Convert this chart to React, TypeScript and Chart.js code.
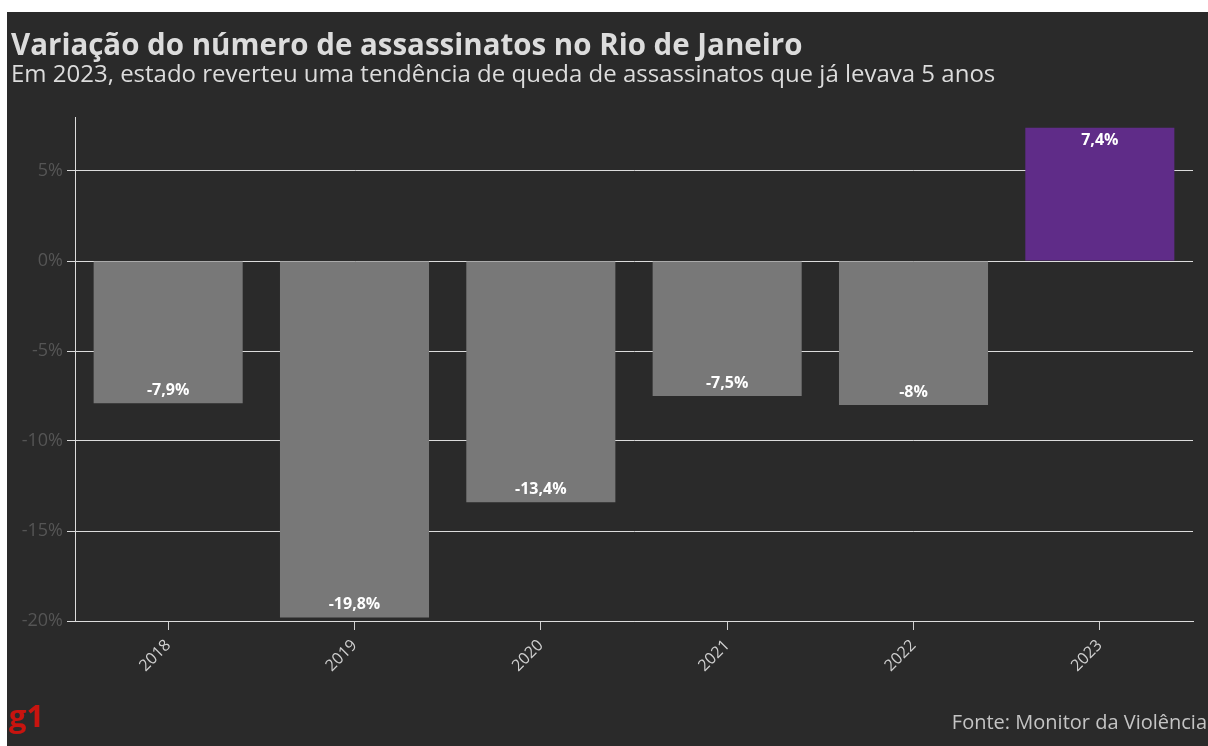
import { useEffect, useRef } from "react";
import { Chart, registerables } from "chart.js";

Chart.register(...registerables);

const years = ["2018", "2019", "2020", "2021", "2022", "2023"];
const variation = [-7.9, -19.8, -13.4, -7.5, -8, 7.4];
const valueLabels = ["-7,9%", "-19,8%", "-13,4%", "-7,5%", "-8%", "7,4%"];
const yTicks = [-20, -15, -10, -5, 0, 5];
const barColors = ["#787878", "#787878", "#787878", "#787878", "#787878", "#5f2c88"];

const TITLE = "Variação do número de assassinatos no Rio de Janeiro";
const SUBTITLE = "Em 2023, estado reverteu uma tendência de queda de assassinatos que já levava 5 anos";
const SOURCE = "Fonte: Monitor da Violência";
const FONT = "'Open Sans', 'Noto Sans', sans-serif";

export default function App() {
  const ref = useRef<HTMLCanvasElement | null>(null);

  useEffect(() => {
    if (!ref.current) return;
    const decor = {
      id: "decor",
      beforeDraw(chart: any) {
        const c = chart.ctx;
        c.save();
        c.fillStyle = "#2a2a2a";
        c.fillRect(0, 0, chart.width, chart.height);
        c.restore();
      },
      afterDatasetsDraw(chart: any) {
        const c = chart.ctx;
        const meta = chart.getDatasetMeta(0);
        c.save();
        c.font = `bold 16px ${FONT}`;
        c.fillStyle = "#ffffff";
        c.textAlign = "center";
        c.textBaseline = "middle";
        meta.data.forEach((bar: any, i: number) => {
          const v = variation[i];
          const y = v < 0 ? bar.y - 13 : bar.y + 13;
          c.fillText(valueLabels[i], bar.x, y);
        });
        c.restore();
      },
      afterDraw(chart: any) {
        const c = chart.ctx;
        c.save();
        c.textBaseline = "alphabetic";
        c.textAlign = "left";
        c.fillStyle = "#dcdcdc";
        c.font = `bold 29.5px ${FONT}`;
        c.fillText(TITLE, 4, 43);
        c.font = `24px ${FONT}`;
        c.fillText(SUBTITLE, 4, 70);
        c.fillStyle = "#c8140f";
        c.font = `bold 31px ${FONT}`;
        c.fillText("g1", 2, 715);
        c.fillStyle = "#c4c4c4";
        c.font = `20px ${FONT}`;
        c.textAlign = "right";
        c.fillText(SOURCE, chart.width - 1, 717);
        c.restore();
      },
    };

    const chart = new Chart(ref.current, {
      type: "bar",
      data: {
        labels: years,
        datasets: [
          {
            data: variation,
            backgroundColor: barColors,
            borderWidth: 0,
            barPercentage: 0.8,
            categoryPercentage: 1,
          },
        ],
      },
      options: {
        animation: false,
        responsive: false,
        maintainAspectRatio: false,
        layout: { padding: { top: 105, right: 15, left: 0, bottom: 0 } },
        plugins: {
          legend: { display: false },
          tooltip: { enabled: false },
          title: { display: false },
        },
        scales: {
          x: {
            grid: {
              display: true,
              offset: false,
              drawOnChartArea: false,
              drawTicks: true,
              tickLength: 9,
              color: "#cfcfcf",
              lineWidth: 1,
            },
            border: { display: true, color: "#dcdcdc", width: 1 },
            ticks: {
              color: "#cfcfcf",
              font: { family: FONT, size: 16 },
              maxRotation: 45,
              minRotation: 45,
              padding: 6,
            },
            afterFit(scale: any) {
              scale.height = 125;
            },
          },
          y: {
            min: -20,
            max: 8,
            grid: {
              color: "#dcdcdc",
              lineWidth: 1,
              drawTicks: true,
              tickLength: 8,
            },
            border: { display: true, color: "#dcdcdc", width: 1 },
            afterBuildTicks(scale: any) {
              scale.ticks = yTicks.map((v) => ({ value: v }));
            },
            ticks: {
              color: "#555555",
              font: { family: FONT, size: 18 },
              padding: 4,
              callback: (v: any) => `${v}%`,
            },
            afterFit(scale: any) {
              scale.width = 68;
            },
          },
        },
      },
      plugins: [decor],
    });
    return () => chart.destroy();
  }, []);

  return (
    <div style={{ position: "absolute", left: 7, top: 12, width: 1201, height: 734 }}>
      <canvas ref={ref} width={1201} height={734} style={{ display: "block" }} />
    </div>
  );
}
